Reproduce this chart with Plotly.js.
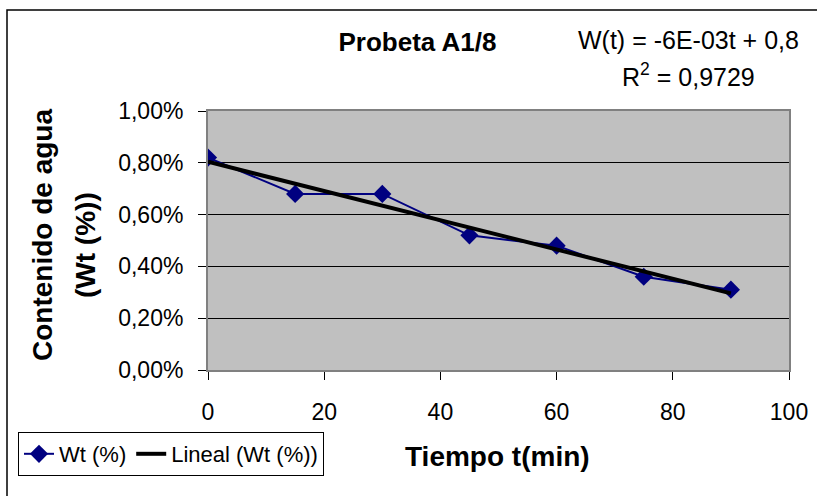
<!DOCTYPE html>
<html>
<head>
<meta charset="utf-8">
<script src="https://cdn.plot.ly/plotly-3.0.1.min.js"></script>
<style>
html,body{margin:0;padding:0;background:#fff;}
#chart{width:817px;height:496px;}
</style>
</head>
<body>
<div id="chart"></div>
<script>
// Data (values in %)
var tiempo = [0, 15, 30, 45, 60, 75, 90];
var wt = [0.82, 0.68, 0.68, 0.52, 0.48, 0.36, 0.31];
var xTicks = [0, 20, 40, 60, 80, 100];
var yTicks = [0, 0.2, 0.4, 0.6, 0.8, 1.0];
var yTickText = ['0,00%', '0,20%', '0,40%', '0,60%', '0,80%', '1,00%'];
var chartTitle = 'Probeta A1/8';
var eqLine1 = 'W(t) = -6E-03t + 0,8';
var eqLine2 = 'R<sup>2</sup> = 0,9729';
var xTitle = 'Tiempo t(min)';
var yTitle1 = 'Contenido de agua';
var yTitle2 = '(Wt (%))';
var serieName = 'Wt (%)';
var trendName = 'Lineal (Wt (%))';

// Least squares linear trend (as Excel's linear trendline)
var n = tiempo.length, mx = 0, my = 0;
for (var i = 0; i < n; i++) { mx += tiempo[i]; my += wt[i]; }
mx /= n; my /= n;
var sxy = 0, sxx = 0;
for (var i = 0; i < n; i++) { sxy += (tiempo[i]-mx)*(wt[i]-my); sxx += (tiempo[i]-mx)*(tiempo[i]-mx); }
var slope = sxy / sxx, intercept = my - slope * mx;
var trendY = tiempo.map(function(t){ return intercept + slope * t; });

// layout geometry (pixels)
var W = 817, H = 496, L = 208, R = 789, T = 111, B = 370;
function px(x){ return (x - L) / (R - L); }
function py(y){ return (B - y) / (B - T); }

var font = 'Arial, "Liberation Sans", sans-serif';

var traces = [
  {x: tiempo, y: wt, type: 'scatter', mode: 'lines+markers', name: serieName,
   line: {color: '#000080', width: 2},
   marker: {symbol: 'diamond', size: 14, color: '#000080'}},
  {x: tiempo, y: trendY, type: 'scatter', mode: 'lines', name: trendName,
   line: {color: '#000000', width: 4}}
];

var layout = {
  width: W, height: H,
  margin: {l: L, r: W - R, t: T, b: H - B, pad: 0},
  paper_bgcolor: '#ffffff',
  plot_bgcolor: '#c0c0c0',
  separators: ',.',
  font: {family: font, color: '#000', size: 23},
  showlegend: true,
  title: {text: chartTitle, font: {family: font, size: 26, weight: 'bold', color: '#000'},
          x: 417.5 / W, y: 1 - 42 / H, xref: 'container', yref: 'container',
          xanchor: 'center', yanchor: 'middle'},
  xaxis: {range: [0, 100], tickmode: 'array', tickvals: xTicks, ticks: 'outside', ticklen: 8, tickwidth: 1,
          tickcolor: '#000', showgrid: false, zeroline: false,
          showline: true, linecolor: '#808080', linewidth: 2, mirror: true,
          tickfont: {family: font, size: 23, color: '#000'}, ticklabelstandoff: 12},
  yaxis: {range: [0, 1.0], tickmode: 'array', tickvals: yTicks, ticktext: yTickText,
          ticks: 'outside', ticklen: 8, tickwidth: 1, tickcolor: '#000',
          showgrid: true, gridcolor: '#000', gridwidth: 1, zeroline: false,
          showline: true, linecolor: '#808080', linewidth: 2, mirror: true,
          tickfont: {family: font, size: 23, color: '#000'}, ticklabelstandoff: 10},
  legend: {orientation: 'h', x: px(18), y: py(432), xanchor: 'left', yanchor: 'top',
           bordercolor: '#000', borderwidth: 1, bgcolor: '#fff',
           font: {family: font, size: 22, color: '#000'}, tracegroupgap: 0,
           itemwidth: 30},
  annotations: [
    {text: eqLine1, xref: 'paper', yref: 'paper', x: px(688), y: py(40),
     xanchor: 'center', yanchor: 'middle', showarrow: false,
     font: {family: font, size: 25, color: '#000'}},
    {text: eqLine2, xref: 'paper', yref: 'paper', x: px(688), y: py(75),
     xanchor: 'center', yanchor: 'middle', showarrow: false,
     font: {family: font, size: 25, color: '#000'}},
    {text: xTitle, xref: 'paper', yref: 'paper', x: px(497.5), y: py(456),
     xanchor: 'center', yanchor: 'middle', showarrow: false,
     font: {family: font, size: 28, weight: 'bold', color: '#000'}},
    {text: yTitle1, xref: 'paper', yref: 'paper', x: px(42), y: py(235), textangle: -90,
     xanchor: 'center', yanchor: 'middle', showarrow: false,
     font: {family: font, size: 28, weight: 'bold', color: '#000'}},
    {text: yTitle2, xref: 'paper', yref: 'paper', x: px(85), y: py(245), textangle: -90,
     xanchor: 'center', yanchor: 'middle', showarrow: false,
     font: {family: font, size: 28, weight: 'bold', color: '#000'}}
  ],
  shapes: [
    {type: 'rect', xref: 'paper', yref: 'paper', layer: 'below',
     x0: px(7), x1: px(830), y0: py(510), y1: py(10),
     line: {color: '#000', width: 1.5}, fillcolor: 'rgba(0,0,0,0)'}
  ]
};

Plotly.newPlot('chart', traces, layout, {displayModeBar: false, staticPlot: true});
</script>
</body>
</html>
